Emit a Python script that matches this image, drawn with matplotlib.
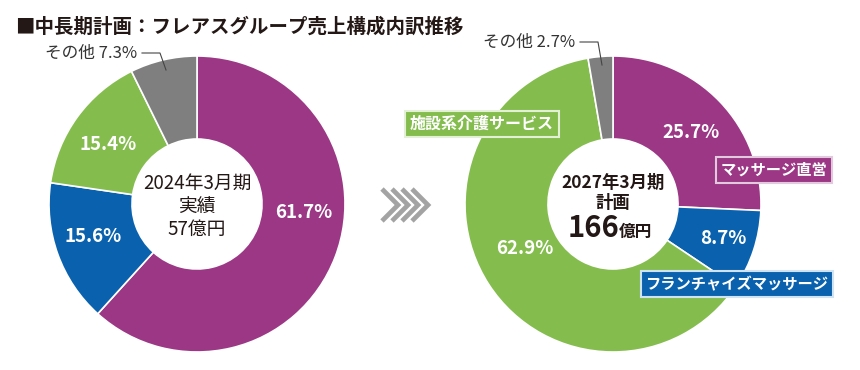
import matplotlib.pyplot as plt

plt.rcParams['font.family'] = ['Noto Sans CJK JP', 'DejaVu Sans']

# segment order: massage direct, franchise, care services, other
segments = ['マッサージ直営', 'フランチャイズマッサージ', '施設系介護サービス', 'その他']
share_2024 = [61.7, 15.6, 15.4, 7.3]
share_2027 = [25.7, 8.7, 62.9, 2.7]
colors = ['#9b3784', '#0a62ae', '#84bd4e', '#7f7f7f']
box_edges = ['#e3c9de', '#cfe3f5', '#e4f0d6']

W, H = 860, 370


def y(p):
    # pixel-from-top to data coordinate
    return H - p


fig = plt.figure(figsize=(8.6, 3.7), dpi=100)
ax = fig.add_axes([0, 0, 1, 1])

R, r_in = 148, 65
wp = dict(width=R - r_in, edgecolor='white', linewidth=1.2)
ax.pie(share_2024, colors=colors, radius=R, center=(197, y(204)),
       startangle=90, counterclock=False, wedgeprops=wp, frame=True)
ax.pie(share_2027, colors=colors, radius=R, center=(613, y(204)),
       startangle=90, counterclock=False, wedgeprops=wp, frame=True)
ax.set_xlim(0, W)
ax.set_ylim(0, H)
ax.set_aspect('equal')
ax.axis('off')

# title
ax.text(15, y(27), '■中長期計画：フレアスグループ売上構成内訳推移', fontsize=14,
        fontweight='bold', color='#231815', va='center', ha='left')

# percentage labels
pct_kw = dict(color='white', fontsize=13.5, fontweight='bold', ha='center', va='center')
ax.text(304, y(213), f'{share_2024[0]}%', **pct_kw)
ax.text(93, y(237), f'{share_2024[1]}%', **pct_kw)
ax.text(108, y(145), f'{share_2024[2]}%', **pct_kw)
ax.text(691, y(132), f'{share_2027[0]}%', **pct_kw)
ax.text(723, y(238), f'{share_2027[1]}%', **pct_kw)
ax.text(525, y(248), f'{share_2027[2]}%', **pct_kw)

# "other" callouts
ax.text(137, y(53), f'その他 {share_2024[3]}%', fontsize=12, color='#333333',
        ha='right', va='center')
ax.plot([142, 160, 166], [y(53), y(53), y(70)], color='#444444', lw=0.8)
ax.text(575, y(42), f'その他 {share_2027[3]}%', fontsize=12, color='#333333',
        ha='right', va='center')
ax.plot([580, 598, 602], [y(42), y(42), y(65)], color='#444444', lw=0.8)

# centre texts
ctr = '#231815'
ax.text(197, y(183), '2024年3月期', fontsize=13.5, color=ctr, ha='center', va='center')
ax.text(197, y(206), '実績', fontsize=13.5, color=ctr, ha='center', va='center')
ax.text(197, y(229), '57億円', fontsize=13.5, color=ctr, ha='center', va='center')

ax.text(613, y(183), '2027年3月期', fontsize=12.5, fontweight='bold', color=ctr,
        ha='center', va='center')
ax.text(613, y(203), '計画', fontsize=12.5, fontweight='bold', color=ctr,
        ha='center', va='center')
ax.text(619, y(237), '166', fontsize=21, fontweight='bold', color=ctr,
        ha='right', va='baseline')
ax.text(619, y(237), '億円', fontsize=12, fontweight='bold', color=ctr,
        ha='left', va='baseline')

# segment name boxes
box_kw = dict(color='white', fontsize=11, fontweight='bold', ha='center', va='center')
ax.text(774, y(170), segments[0], **box_kw,
        bbox=dict(boxstyle='square,pad=0.3', fc=colors[0], ec=box_edges[0], lw=1.5))
ax.text(737, y(284), segments[1], **box_kw,
        bbox=dict(boxstyle='square,pad=0.3', fc=colors[1], ec=box_edges[1], lw=1.5))
ax.text(482, y(124), segments[2], color='white', fontsize=11.5, fontweight='bold',
        ha='center', va='center',
        bbox=dict(boxstyle='square,pad=0.3', fc=colors[2], ec=box_edges[2], lw=1.5))

# chevron arrow between the two donuts
for tip in [398, 408, 418, 428]:
    ax.plot([tip - 16, tip, tip - 16], [y(189), y(205), y(221)],
            color='#a3a3a3', lw=3.4, solid_capstyle='butt', solid_joinstyle='miter')

fig.savefig('out.png', dpi=100)
